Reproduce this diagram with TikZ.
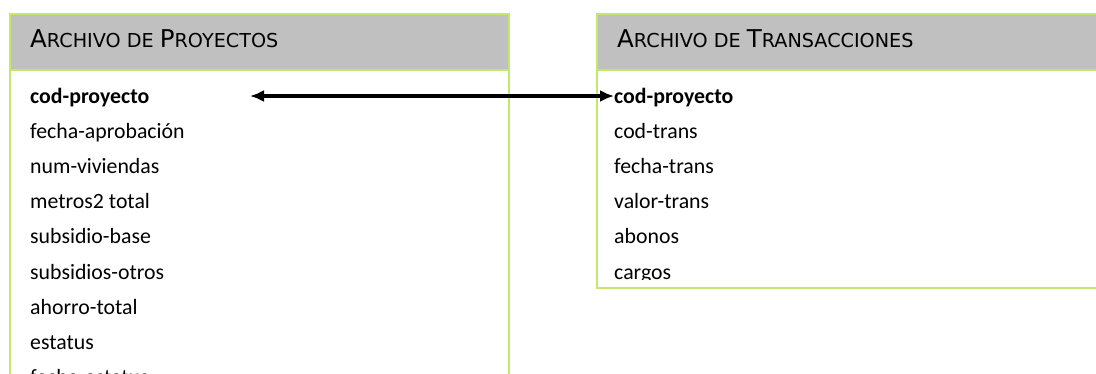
\documentclass[tikz,border=0pt]{standalone}
\usepackage{fontspec}
\setmainfont{Carlito}
\newfontfamily\verd{DejaVu Sans}
\usetikzlibrary{arrows.meta}
\definecolor{lime}{RGB}{196,232,110}
\definecolor{hdr}{RGB}{192,192,192}
\newcommand\Bc[1]{{\fontsize{24.5}{24.5}\selectfont #1}}
\begin{document}
\begin{tikzpicture}[x=1pt,y=-1pt,
  box/.style={draw=lime,line width=2pt,inner sep=0pt,anchor=north west},
  hdrbox/.style={box,fill=hdr},
  ttl/.style={anchor=base west,inner sep=0pt,font=\verd\fontsize{19.2}{19.2}\selectfont},
  fld/.style={anchor=base west,inner sep=0pt,font=\fontsize{21.8}{21.8}\selectfont},
  key/.style={anchor=base west,inner sep=0pt,font=\bfseries\fontsize{21.8}{21.8}\selectfont},
  link/.style={line width=3.5pt,{Latex[length=14pt,width=12pt]}-{Latex[length=14pt,width=12pt]}}]
\useasboundingbox (0,0) rectangle (1096,373);
% left table
\node (lbox) [box,minimum width=499pt,minimum height=420pt] at (9,13) {};
\node (lhdr) [hdrbox,minimum width=499pt,minimum height=56pt] at (9,13) {};
\node (ltitle) [ttl] at (30,47) {\Bc{A}RCHIVO DE \Bc{P}ROYECTOS};
\node (lcod) [key] at (30,103) {cod-proyecto};
\node (l2) [fld] at (30,138.2) {fecha-aprobación};
\node (l3) [fld] at (30,173.4) {num-viviendas};
\node (l4) [fld] at (30,208.6) {metros2 total};
\node (l5) [fld] at (30,243.8) {subsidio-base};
\node (l6) [fld] at (30,279) {subsidios-otros};
\node (l7) [fld] at (30,314.2) {ahorro-total};
\node (l8) [fld] at (30,349.4) {estatus};
\node (l9) [fld] at (30,384.6) {fecha-estatus};
% right table
\node (rbox) [box,minimum width=510pt,minimum height=274pt] at (596,13) {};
\node (rhdr) [hdrbox,minimum width=510pt,minimum height=56pt] at (596,13) {};
\node (rtitle) [ttl] at (617,47) {\Bc{A}RCHIVO DE \Bc{T}RANSACCIONES};
\begin{scope}
\clip (597,70) rectangle (1100,279);
\node (rcod) [key] at (614,103) {cod-proyecto};
\node (r2) [fld] at (614,138.2) {cod-trans};
\node (r3) [fld] at (614,173.4) {fecha-trans};
\node (r4) [fld] at (614,208.6) {valor-trans};
\node (r5) [fld] at (614,243.8) {abonos};
\node (r6) [fld] at (614,279) {cargos};
\end{scope}
% link
\coordinate (lend) at (250,96);
\draw[link] (lend) -- (lend -| rcod.west);
\end{tikzpicture}
\end{document}
